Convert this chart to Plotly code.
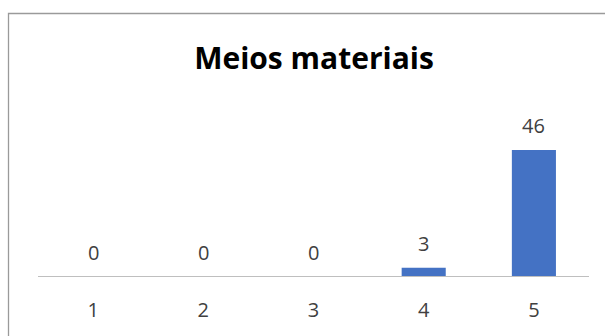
import plotly.graph_objects as go

# Survey answers for "Meios materiais" (rating 1..5)
categories = ["1", "2", "3", "4", "5"]
counts = [0, 0, 0, 3, 46]

W, H = 605, 336
BAR_COLOR = "#4472C4"
FONT = "Open Sans"

fig = go.Figure(
    go.Bar(
        x=categories,
        y=counts,
        marker=dict(color=BAR_COLOR, line=dict(width=0)),
        width=0.4,
        hoverinfo="skip",
    )
)

# Value labels sitting above each bar (category axes take the index position)
for i, val in enumerate(counts):
    fig.add_annotation(
        x=i, y=val, text=str(val), showarrow=False,
        yanchor="middle", yshift=24,
        font=dict(family=FONT, size=20, color="#404040"),
    )

# Outer chart frame
fig.add_shape(
    type="rect", xref="paper", yref="paper",
    x0=8.5 / W, x1=1.02, y0=-0.02, y1=(H - 13.5) / H,
    line=dict(color="#9a9a9a", width=1.3), fillcolor="rgba(0,0,0,0)",
    layer="below",
)

fig.update_layout(
    width=W, height=H,
    margin=dict(l=0, r=0, t=0, b=0),
    paper_bgcolor="white", plot_bgcolor="white",
    showlegend=False,
    title=dict(
        text="<b>Meios materiais</b>",
        x=314 / W, xanchor="center",
        y=(H - 58) / H, yanchor="middle",
        font=dict(family=FONT, size=30, color="#000000"),
    ),
    xaxis=dict(
        type="category",
        range=[-0.5, len(categories) - 0.5],
        domain=[38 / W, 589 / W],
        showline=True, linecolor="#bfbfbf", linewidth=1.3,
        ticks="", showgrid=False, zeroline=False,
        tickfont=dict(family=FONT, size=20, color="#404040"),
        ticklabelstandoff=16,
    ),
    yaxis=dict(
        domain=[(H - 276) / H, (H - 139) / H],
        range=[0, 50],
        visible=False, showgrid=False, zeroline=False,
    ),
)

fig.write_html("out.html")
